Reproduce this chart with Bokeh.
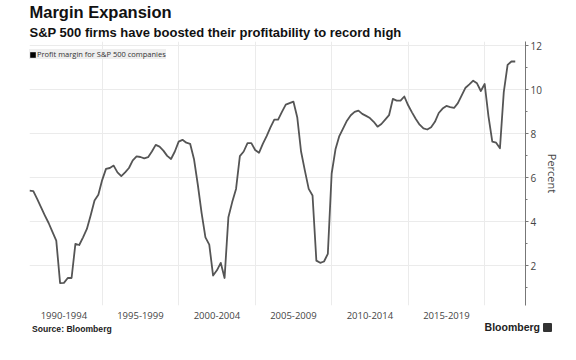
from bokeh.plotting import figure
from bokeh.layouts import column
from bokeh.models import Range1d, FixedTicker, Title, Legend, LegendItem, Div
from bokeh.embed import file_html
from bokeh.resources import INLINE

# ---- data (quarterly S&P 500 profit margin, percent) ----
first_quarter = 1990.25
profit_margin = [
    5.42, 5.40, 5.05, 4.67, 4.30, 3.95, 3.55, 3.15,      # 1990.25 - 1992.0
    1.22, 1.23, 1.45, 1.45, 3.00, 2.95, 3.30, 3.68,      # 1992.25 - 1994.0
    4.30, 4.97, 5.23, 5.90, 6.41, 6.45, 6.56, 6.25,      # 1994.25 - 1996.0
    6.08, 6.25, 6.45, 6.80, 6.98, 6.95, 6.89, 6.94,      # 1996.25 - 1998.0
    7.20, 7.50, 7.42, 7.24, 7.00, 6.86, 7.20, 7.65,      # 1998.25 - 2000.0
    7.73, 7.60, 7.55, 6.86, 5.70, 4.40, 3.30, 2.97,      # 2000.25 - 2002.0
    1.56, 1.80, 2.14, 1.45, 4.21, 4.90, 5.50, 6.99,      # 2002.25 - 2004.0
    7.20, 7.58, 7.58, 7.27, 7.14, 7.55, 7.90, 8.30,      # 2004.25 - 2006.0
    8.65, 8.65, 9.00, 9.33, 9.40, 9.47, 8.76, 7.20,      # 2006.25 - 2008.0
    6.33, 5.50, 5.20, 2.24, 2.14, 2.20, 2.55, 6.20,      # 2008.25 - 2010.0
    7.30, 7.90, 8.25, 8.60, 8.85, 9.00, 9.06, 8.91,      # 2010.25 - 2012.0
    8.82, 8.72, 8.55, 8.33, 8.45, 8.65, 8.85, 9.59,      # 2012.25 - 2014.0
    9.51, 9.51, 9.70, 9.30, 8.98, 8.68, 8.42, 8.25,      # 2014.25 - 2016.0
    8.20, 8.30, 8.55, 8.95, 9.15, 9.27, 9.22, 9.18,      # 2016.25 - 2018.0
    9.40, 9.75, 10.10, 10.25, 10.42, 10.30, 9.95, 10.27, # 2018.25 - 2020.0
    8.80, 7.65, 7.60, 7.35, 9.90, 11.14, 11.29, 11.29,   # 2020.25 - 2022.0
]
quarter_x = [first_quarter + 0.25 * i for i in range(len(profit_margin))]

period_starts = [1990, 1995, 2000, 2005, 2010, 2015]
period_labels = ["1990-1994", "1995-1999", "2000-2004", "2005-2009", "2010-2014", "2015-2019"]
grid_years = [1995, 2000, 2005, 2010, 2015, 2020]
y_ticks = [2, 4, 6, 8, 10, 12]
y_minor_ticks = [1, 3, 5, 7, 9, 11]

title_text = "Margin Expansion"
subtitle_text = "S&P 500 firms have boosted their profitability to record high"
series_name = "Profit margin for S&P 500 companies"
source_text = "Source: Bloomberg"
brand_text = "Bloomberg"

# ---- main figure ----
p = figure(
    frame_width=496, frame_height=264,
    x_range=Range1d(1990.25, 2022.67), y_range=Range1d(0.2, 12.2),
    y_axis_location="right",
    output_backend="svg", toolbar_location=None,
    min_border_left=29, min_border_right=43, min_border_top=35, min_border_bottom=12,
)
p.outline_line_color = None
p.background_fill_color = "white"
p.border_fill_color = "white"

p.line(quarter_x, profit_margin, line_color="#555555", line_width=1.8, line_join="round")

# legend key: zero-area quad at the first point (invisible in the plot), drawn as a black square in the legend
key = p.quad(left=quarter_x[:1], right=quarter_x[:1], bottom=profit_margin[:1], top=profit_margin[:1],
             fill_color="black", line_color=None)
legend = Legend(
    items=[LegendItem(label=series_name, renderers=[key])],
    location=(0, 246), margin=0, padding=3, spacing=0,
    background_fill_color="#eeeeee", background_fill_alpha=1.0,
    border_line_color=None,
    label_text_font="Open Sans", label_text_font_size="7.5px", label_text_color="#333333",
    glyph_width=7, glyph_height=7, label_standoff=1, label_height=7,
)
p.add_layout(legend)

# x axis: period labels centred between grid lines
label_pos = [s + 2.5 for s in period_starts]
xa = p.xaxis[0]
xa.ticker = FixedTicker(ticks=label_pos, minor_ticks=[])
xa.major_label_overrides = {lp: lab for lp, lab in zip(label_pos, period_labels)}
xa.axis_line_color = None
xa.major_tick_line_color = None
xa.minor_tick_line_color = None
xa.major_tick_out = 0
xa.major_tick_in = 0
xa.minor_tick_out = 0
xa.minor_tick_in = 0
xa.major_label_text_font = "Open Sans"
xa.major_label_text_font_size = "9.5px"
xa.major_label_text_color = "#444444"
xa.major_label_standoff = 6

p.xgrid.ticker = FixedTicker(ticks=grid_years)
p.xgrid.grid_line_color = "#ebebeb"
p.ygrid.grid_line_color = "#ebebeb"

# y axis on the right
ya = p.yaxis[0]
ya.ticker = FixedTicker(ticks=y_ticks, minor_ticks=y_minor_ticks)
ya.axis_label = "Percent"
ya.axis_label_text_font = "Open Sans"
ya.axis_label_text_font_size = "11px"
ya.axis_label_text_font_style = "normal"
ya.axis_label_text_color = "#444444"
ya.axis_label_standoff = 0
ya.axis_line_color = "#777777"
ya.major_tick_line_color = "#777777"
ya.minor_tick_line_color = "#777777"
ya.major_tick_out = 3
ya.major_tick_in = 0
ya.minor_tick_out = 2
ya.minor_tick_in = 0
ya.major_label_text_font = "Open Sans"
ya.major_label_text_font_size = "10px"
ya.major_label_text_color = "#444444"
ya.major_label_standoff = 2

# titles (first added sits closest to the plot)
p.add_layout(Title(text=subtitle_text, text_font="Liberation Sans", text_font_size="13px",
                   text_font_style="bold", text_color="#111111", align="left",
                   standoff=4, offset=0), "above")
p.add_layout(Title(text=title_text, text_font="Liberation Sans", text_font_size="16.5px",
                   text_font_style="bold", text_color="#111111", align="left",
                   standoff=0, offset=0), "above")

# ---- footer (source line and brand mark) ----
footer_html = (
    '<div style="position:relative;width:568px;height:24px;">'
    '<span style="position:absolute;left:32px;top:3px;font-family:\'Liberation Sans\';'
    'font-weight:bold;font-size:8.6px;line-height:10px;color:#222222;white-space:nowrap;">'
    + source_text + '</span>'
    '<span style="position:absolute;right:28px;top:0px;font-family:\'Liberation Sans\';'
    'font-weight:bold;font-size:10.5px;line-height:12px;color:#222222;white-space:nowrap;">'
    + brand_text + '</span>'
    '<span style="position:absolute;left:543px;top:2px;width:9px;height:9px;'
    'background:#333333;border-radius:1px;"></span>'
    '</div>'
)
footer = Div(text=footer_html, width=568, height=24, margin=0)

layout = column(p, footer, spacing=0)
open("out.html", "w").write(file_html(layout, INLINE))
